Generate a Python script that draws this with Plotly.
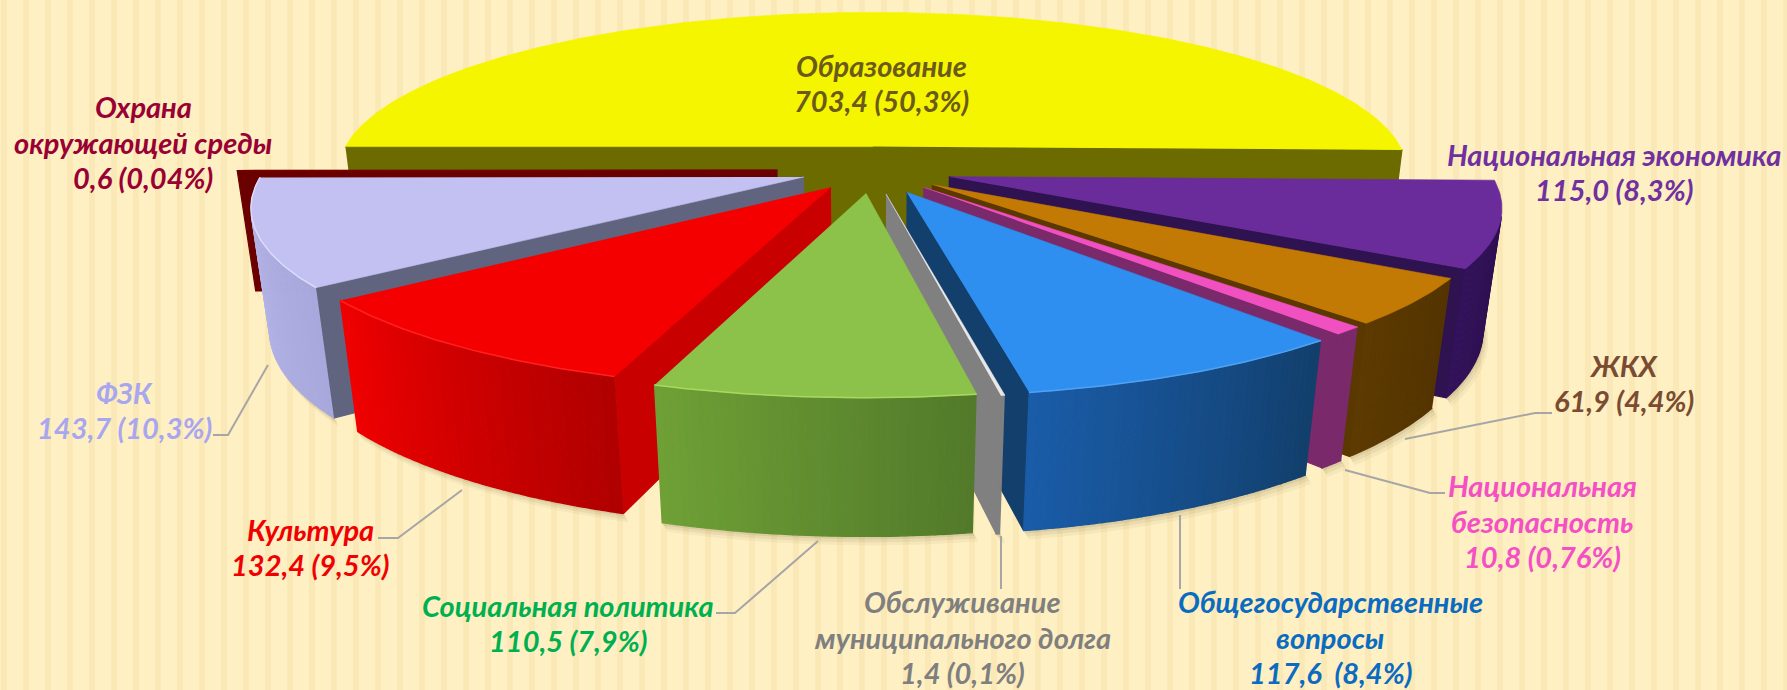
import math
import plotly.graph_objects as go

# ---- data ----
categories = ["Образование", "Национальная экономика", "ЖКХ", "Национальная безопасность",
              "Общегосударственные вопросы", "Обслуживание муниципального долга",
              "Социальная политика", "Культура", "ФЗК", "Охрана окружающей среды"]
values = [703.4, 115.0, 61.9, 10.8, 117.6, 1.4, 110.5, 132.4, 143.7, 0.6]
label_texts = ["Образование<br>703,4 (50,3%)",
               "Национальная экономика<br>115,0 (8,3%)",
               "ЖКХ<br>61,9 (4,4%)",
               "Национальная<br>безопасность<br>10,8 (0,76%)",
               "Общегосударственные<br>вопросы<br>117,6  (8,4%)",
               "Обслуживание<br>муниципального долга<br>1,4 (0,1%)",
               "Социальная политика<br>110,5 (7,9%)",
               "Культура<br>132,4 (9,5%)",
               "ФЗК<br>143,7 (10,3%)",
               "Охрана<br>окружающей среды<br>0,6 (0,04%)"]
label_colors = ["#6B5A1A", "#7030A0", "#7A4B32", "#F44FC4", "#0A6BC0",
                "#7F7F7F", "#00B050", "#F00000", "#A9A6F0", "#990033"]
top_colors = ["#F5F500", "#6A2B9B", "#C27A05", "#F050C0", "#2E8FF0",
              "#E8E8E8", "#8CC24A", "#F50000", "#C3C0F2", "#7A0000"]
radial_colors = ["#6B6B00", "#2F1250", "#5A3800", "#7A2A6A", "#123F6C",
                 "#808080", "#5F8A30", "#C80000", "#60647F", "#6B0000"]
arc_from = ["#6B6B00", "#32125A", "#5C3A00", "#7A2A6A", "#1A5CA8",
            "#808080", "#6FA036", "#F00000", "#B9B9EC", "#6B0000"]
arc_to = ["#6B6B00", "#2C104A", "#543400", "#7A2A6A", "#123F6C",
          "#808080", "#527A2A", "#B00000", "#A8A8DC", "#6B0000"]
rim_colors = [None, None, None, None, "#4FA2F2", None, "#A8D860", "#FF2020", "#DCDCFA", None]
explode = [0.147, 0.147, 0.14, 0.14, 0.147, 0.147, 0.14, 0.128, 0.132, 0.175]
draw_order = [0, 9, 1, 2, 3, 8, 7, 4, 5, 6]

label_pos = [(881, 83), (1614, 172), (1624, 383), (1542, 521), (1330, 637),
             (962, 637), (568, 623), (310, 547), (124, 410), (143, 142)]
leaders = [None,
           None,
           [(1405, 439), (1535, 413), (1552, 413)],
           [(1345, 470), (1430, 493), (1445, 493)],
           [(1180, 515), (1180, 589)],
           [(1001, 536), (1001, 589)],
           [(818, 541), (735, 613), (716, 613)],
           [(462, 490), (398, 538), (378, 538)],
           [(268, 365), (228, 435), (213, 435)],
           None]

# ---- pie projection parameters ----
CX, Y0 = 872, 170
A, B, K = 540, 163, 0.162
H, KZ = 124, 0.03
LINE_STEP = 35.5


def project(x, y, z):
    w = 1 + K * y + KZ * z
    return CX + A * x / w, Y0 - B * y / w + H * z / w


def hex2rgb(c):
    return [int(c[i:i + 2], 16) for i in (1, 3, 5)]


def mix(c1, c2, t):
    a, b = hex2rgb(c1), hex2rgb(c2)
    return "rgb(%d,%d,%d)" % tuple(round(a[i] + (b[i] - a[i]) * t) for i in range(3))


def area(p):
    return sum(p[i][0] * p[(i + 1) % len(p)][1] - p[(i + 1) % len(p)][0] * p[i][1]
               for i in range(len(p))) / 2


fig = go.Figure()


def poly(points, color, lw=0.6):
    fig.add_trace(go.Scatter(x=[p[0] for p in points], y=[p[1] for p in points],
                             mode="lines", fill="toself", fillcolor=color,
                             line=dict(color=color, width=lw), hoverinfo="skip",
                             showlegend=False))


total = sum(values)
spans = []
start = 270 + 0.0
for v in values:
    sweep = 360 * v / total
    spans.append((start, start + sweep))
    start += sweep


def draw_slice(i):
    a0, a1 = spans[i]
    mid = math.radians((a0 + a1) / 2)
    ox, oy = explode[i] * math.sin(mid), explode[i] * math.cos(mid)
    n = max(2, int((a1 - a0) * 1.5))
    angs = [math.radians(a0 + (a1 - a0) * j / n) for j in range(n + 1)]
    rim = [(ox + math.sin(t), oy + math.cos(t)) for t in angs]
    top = [project(ox, oy, 0)] + [project(x, y, 0) for x, y in rim]
    # soft shadow beneath the outer wall
    if i != 0:
        bot = [project(x, y, 1) for x, y in rim]
        for off, alpha in ((9, 0.05), (6, 0.07), (3, 0.09)):
            poly(bot + [(px + off * 0.6, py + off) for px, py in reversed(bot)],
                 "rgba(90,70,30,%.2f)" % alpha, lw=0)
    sign = area(top)
    if a1 - a0 > 180:
        # a slice wider than a half-disc: its two cut faces read as one front wall
        poly([project(*rim[0], 0), project(ox, oy, 0), project(*rim[-1], 0),
              project(*rim[-1], 1), project(ox, oy, 1), project(*rim[0], 1)],
             radial_colors[i], lw=1.2)
    else:
        # radial walls, only those that face the viewer
        for (x, y), order in ((rim[0], 1), (rim[-1], -1)):
            q = [project(ox, oy, 0), project(x, y, 0), project(x, y, 1), project(ox, oy, 1)]
            if order * area(q) * sign < 0:
                poly(q, radial_colors[i], lw=1.2)
    # outer wall, in short strips for the shading across it
    for j in range(n):
        q = [project(*rim[j], 0), project(*rim[j + 1], 0),
             project(*rim[j + 1], 1), project(*rim[j], 1)]
        if area(q) * sign < 0:
            poly(q, mix(arc_from[i], arc_to[i], (n - 1 - j) / max(1, n - 1)), lw=1.4)
    poly(top, top_colors[i])
    if rim_colors[i]:
        edge = [project(x, y, 0) for x, y in rim]
        fig.add_trace(go.Scatter(x=[p[0] for p in edge], y=[p[1] for p in edge], mode="lines",
                                 line=dict(color=rim_colors[i], width=1.5), hoverinfo="skip",
                                 showlegend=False))


for i in draw_order:
    draw_slice(i)

for i, seg in enumerate(leaders):
    if seg:
        fig.add_trace(go.Scatter(x=[p[0] for p in seg], y=[p[1] for p in seg], mode="lines",
                                 line=dict(color="#A6A6A6", width=2), hoverinfo="skip",
                                 showlegend=False))

for i, (t, (lx, ly)) in enumerate(zip(label_texts, label_pos)):
    rows = t.split("<br>")
    for r, row in enumerate(rows):
        fig.add_annotation(x=lx, y=ly + (r - (len(rows) - 1) / 2) * LINE_STEP,
                           text="<b><i>%s</i></b>" % row.replace("  ", "\u00a0 "),
                           showarrow=False, align="center",
                           font=dict(family="Lato", size=29, color=label_colors[i]),
                           xanchor="center", yanchor="middle")

stripes = [dict(type="rect", layer="below", x0=x, x1=x + 6, y0=0, y1=690,
                fillcolor="#FAE8B6", line_width=0)
           for x in range(1, 1787, 22)]

fig.update_layout(width=1787, height=690, margin=dict(l=0, r=0, t=0, b=0),
                  paper_bgcolor="#FEF0C2", plot_bgcolor="#FEF0C2", shapes=stripes,
                  xaxis=dict(range=[0, 1787], visible=False, fixedrange=True),
                  yaxis=dict(range=[690, 0], visible=False, fixedrange=True),
                  showlegend=False)
fig.write_html("out.html", config=dict(displayModeBar=False),
               post_script="document.body.style.margin='0';document.documentElement.style.overflow='hidden';")
